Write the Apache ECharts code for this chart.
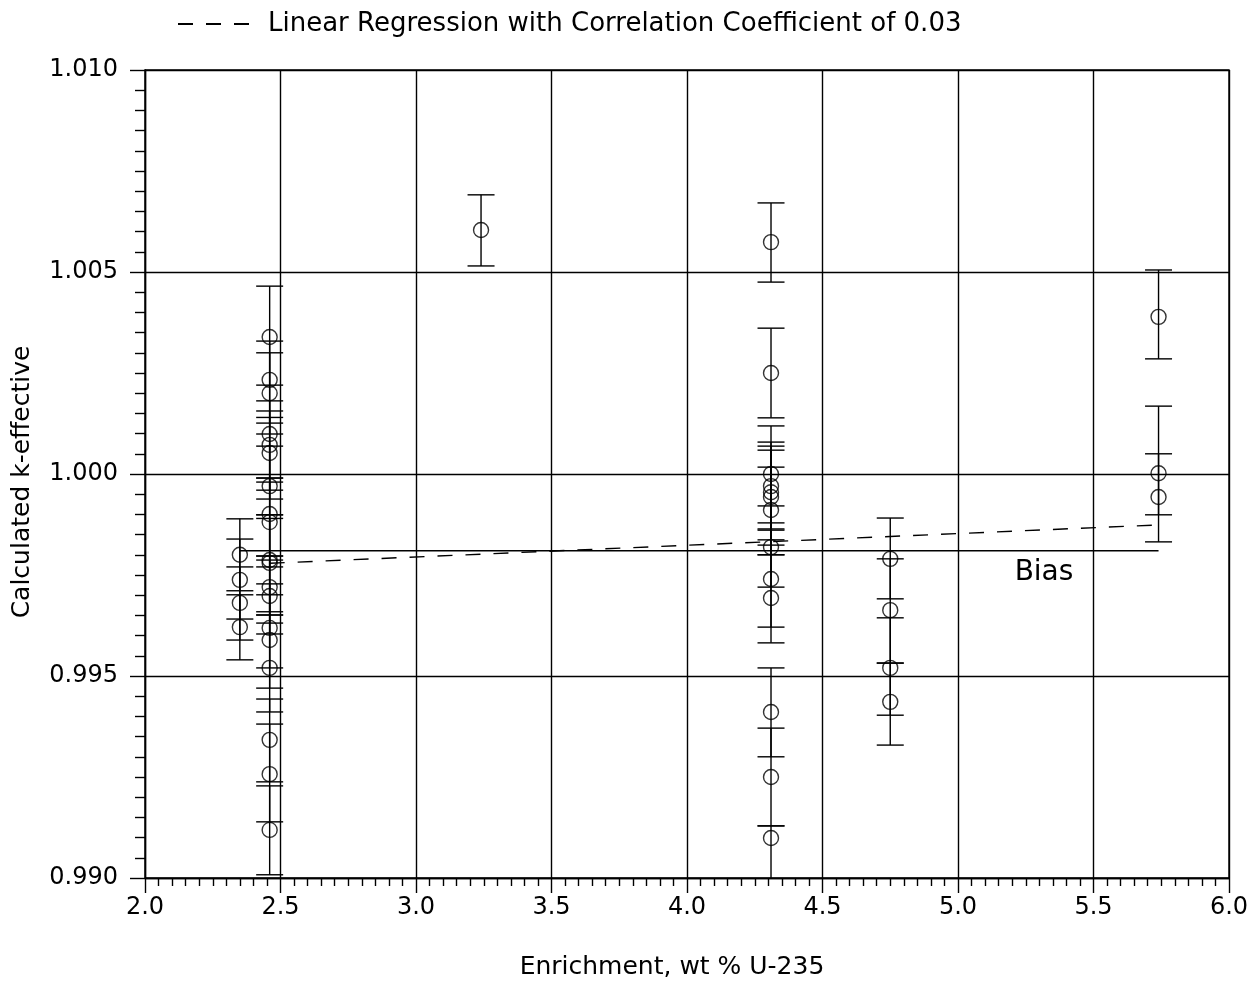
<!DOCTYPE html>
<html>
<head>
<meta charset="utf-8">
<script src="https://cdn.jsdelivr.net/npm/echarts@6/dist/echarts.min.js"></script>
<style>
html,body{margin:0;padding:0;background:#fff;}
#chart{width:1256px;height:981px;}
</style>
</head>
<body>
<div id="chart"></div>
<script>
// Enrichment groups (wt % U-235)
const enrichment = [2.35, 2.46, 3.24, 4.31, 4.75, 5.74];
// Calculated k-effective per group
const keff = [
  [0.99800, 0.99738, 0.99681, 0.99621],
  [1.00339, 1.00233, 1.00200, 1.00099, 1.00072, 1.00052, 0.99970, 0.99901, 0.99881, 0.99787,
   0.99780, 0.99720, 0.99698, 0.99619, 0.99589, 0.99520, 0.99342, 0.99257, 0.99119],
  [1.00604],
  [1.00574, 1.00250, 1.00000, 0.99970, 0.99955, 0.99943, 0.99911, 0.99819, 0.99740, 0.99693,
   0.99411, 0.99250, 0.99099],
  [0.99790, 0.99663, 0.99520, 0.99436],
  [1.00389, 1.00002, 0.99943]
];
// Upper end of each error bar
const keffHigh = [
  [0.99889, 0.99839, 0.99770, 0.99701],
  [1.00465, 1.00329, 1.00300, 1.00181, 1.00156, 1.00140, 1.00069, 0.99980, 0.99990, 0.99899,
   0.99890, 0.99787, 0.99797, 0.99728, 0.99701, 0.99651, 0.99443, 0.99381, 0.99228],
  [1.00691],
  [1.00671, 1.00361, 1.00119, 1.00079, 1.00069, 1.00059, 1.00017, 0.99921, 0.99861, 0.99800,
   0.99520, 0.99371, 0.99129],
  [0.99891, 0.99790, 0.99644, 0.99532],
  [1.00505, 1.00168, 1.00050]
];
// Lower end of each error bar
const keffLow = [
  [0.99711, 0.99641, 0.99589, 0.99540],
  [1.00220, 1.00126, 1.00099, 0.99990, 0.99960, 0.99938, 0.99899, 0.99797, 0.99770, 0.99659,
   0.99651, 0.99631, 0.99604, 0.99520, 0.99470, 0.99411, 0.99238, 0.99139, 0.99008],
  [1.00515],
  [1.00475, 1.00139, 0.99879, 0.99864, 0.99837, 0.99824, 0.99800, 0.99720, 0.99621, 0.99582,
   0.99300, 0.99129, 0.98990],
  [0.99691, 0.99532, 0.99403, 0.99329],
  [1.00285, 0.99899, 0.99832]
];
// Linear regression end points
const regressionX = [2.46, 5.74];
const regressionY = [0.99779, 0.99874];
// Bias line
const biasX = [2.35, 5.74];
const biasValue = 0.99810;

const legendName = 'Linear Regression with Correlation Coefficient of 0.03';
const FONT = "'DejaVu Sans', sans-serif";

const points = [], bars = [];
enrichment.forEach((x, g) => {
  keff[g].forEach((v, i) => {
    points.push([x, v]);
    bars.push([x, keffLow[g][i], keffHigh[g][i]]);
  });
});

const chart = echarts.init(document.getElementById('chart'), null, {renderer: 'canvas'});
const lineW = 1.4;

chart.setOption({
  backgroundColor: '#fff',
  animation: false,
  legend: {
    data: [legendName],
    left: 172, top: 6,
    itemWidth: 73, itemHeight: 14,
    itemStyle: {opacity: 0},
    textStyle: {fontFamily: FONT, fontSize: 26, color: '#000', padding: [0, 0, 0, 12]}
  },
  grid: {left: 145, top: 70, width: 1084, height: 808, show: true, borderColor: '#000', borderWidth: lineW, containLabel: false},
  xAxis: {
    type: 'value', min: 2.0, max: 6.0, interval: 0.5,
    axisLine: {show: true, lineStyle: {color: '#000', width: lineW}},
    axisTick: {show: true, length: 15, lineStyle: {color: '#000', width: lineW}},
    minorTick: {show: true, splitNumber: 10, length: 8, lineStyle: {color: '#000', width: lineW}},
    splitLine: {show: true, lineStyle: {color: '#000', width: lineW}},
    axisLabel: {margin: 18, fontFamily: FONT, fontSize: 24, color: '#000', formatter: v => v.toFixed(1)}
  },
  yAxis: {
    type: 'value', min: 0.990, max: 1.010, interval: 0.005,
    axisLine: {show: true, lineStyle: {color: '#000', width: lineW}},
    axisTick: {show: true, length: 15, lineStyle: {color: '#000', width: lineW}},
    minorTick: {show: true, splitNumber: 10, length: 10, lineStyle: {color: '#000', width: lineW}},
    splitLine: {show: true, lineStyle: {color: '#000', width: lineW}},
    axisLabel: {margin: 27, fontFamily: FONT, fontSize: 24, color: '#000', formatter: v => v.toFixed(3)}
  },
  graphic: [
    {type: 'text', x: 672, y: 967, style: {text: 'Enrichment, wt % U-235', font: "25px 'DejaVu Sans'", fill: '#000', textAlign: 'center', textVerticalAlign: 'middle'}},
    {type: 'text', rotation: Math.PI / 2, x: 22, y: 482, style: {text: 'Calculated k-effective', font: "25px 'DejaVu Sans'", fill: '#000', textAlign: 'center', textVerticalAlign: 'middle'}},
    {type: 'text', x: 1044, y: 573, style: {text: 'Bias', font: "28px 'DejaVu Sans'", fill: '#000', textAlign: 'center', textVerticalAlign: 'middle'}}
  ],
  series: [
    {
      type: 'custom', name: 'errorbars', clip: true, silent: true,
      data: bars,
      encode: {x: 0, y: [1, 2]},
      renderItem: function (params, api) {
        const x = api.value(0);
        const pLo = api.coord([x, api.value(1)]);
        const pHi = api.coord([x, api.value(2)]);
        const hw = 13.5;
        const st = {stroke: '#000', lineWidth: lineW};
        return {type: 'group', children: [
          {type: 'line', shape: {x1: pHi[0], y1: pHi[1], x2: pLo[0], y2: pLo[1]}, style: st},
          {type: 'line', shape: {x1: pHi[0] - hw, y1: pHi[1], x2: pHi[0] + hw, y2: pHi[1]}, style: st},
          {type: 'line', shape: {x1: pLo[0] - hw, y1: pLo[1], x2: pLo[0] + hw, y2: pLo[1]}, style: st}
        ]};
      }
    },
    {
      type: 'scatter', name: 'points', silent: true,
      symbol: 'circle', symbolSize: 15,
      itemStyle: {color: 'rgba(0,0,0,0)', borderColor: '#000', borderWidth: lineW},
      data: points
    },
    {
      type: 'line', name: legendName, silent: true,
      symbol: 'none', color: '#000',
      itemStyle: {color: '#000'},
      lineStyle: {color: '#000', width: lineW, type: [15, 13]},
      data: regressionX.map((x, i) => [x, regressionY[i]])
    },
    {
      type: 'line', name: 'Bias', silent: true,
      symbol: 'none',
      lineStyle: {color: '#000', width: lineW},
      data: biasX.map(x => [x, biasValue])
    }
  ]
});
</script>
</body>
</html>
